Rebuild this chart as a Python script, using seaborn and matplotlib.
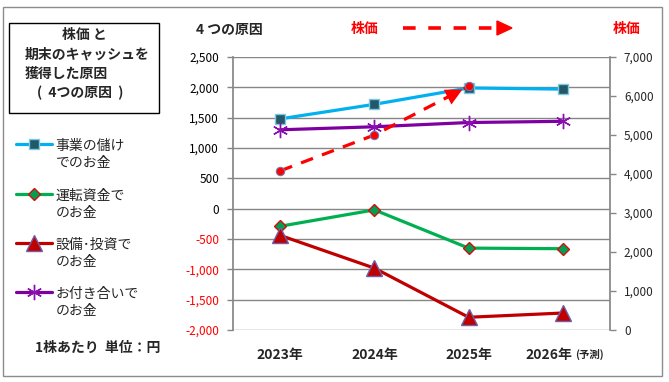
import numpy as np
import pandas as pd
import matplotlib.pyplot as plt
import seaborn as sns
from matplotlib.patches import Rectangle
from matplotlib.lines import Line2D
from matplotlib.ticker import FuncFormatter
from matplotlib.legend_handler import HandlerLine2D

# 1株あたりの値（円）、グラフから読み取り
years = ['2023年', '2024年', '2025年', '2026年']
business = [1480, 1720, 1990, 1970]     # 事業の儲けでのお金
working = [-290, -20, -650, -660]       # 運転資金でのお金
capex = [-440, -980, -1790, -1720]      # 設備・投資でのお金
other = [1300, 1350, 1420, 1440]        # お付き合いでのお金
stock = [4080, 5000, 6250]              # 株価 (2023-2025)

left_ticks = np.arange(-2000, 2501, 500)
right_ticks = np.arange(0, 7001, 1000)

sns.set_theme(style='white')
plt.rcParams['font.family'] = ['Noto Sans CJK JP', 'DejaVu Sans']

W, H = 669, 382
fig = plt.figure(figsize=(W / 100, H / 100), dpi=100)


def fx(px):
    return px / W


def fy(py):
    return 1 - py / H


ax = fig.add_axes([fx(233), fy(330), fx(610) - fx(233), fy(57) - fy(330)])
ax2 = ax.twinx()

x = np.arange(len(years))
df = pd.DataFrame({'x': x, 'business': business, 'working': working,
                   'capex': capex, 'other': other})

sns.lineplot(data=df, x='x', y='business', ax=ax, color='#00B0F0', lw=2.3,
             marker='s', markersize=7.5, markerfacecolor='#215968',
             markeredgecolor='#7FC8E0', markeredgewidth=1, label='事業の儲け\nでのお金')
sns.lineplot(data=df, x='x', y='working', ax=ax, color='#00B050', lw=2.3,
             marker='D', markersize=6, markerfacecolor='#00A050',
             markeredgecolor='#D01010', markeredgewidth=1, label='運転資金で\nのお金')
sns.lineplot(data=df, x='x', y='capex', ax=ax, color='#C00000', lw=2.3,
             marker='^', markersize=11, markerfacecolor='#C00000',
             markeredgecolor='#7060A8', markeredgewidth=1, label='設備･投資で\nのお金')
sns.lineplot(data=df, x='x', y='other', ax=ax, color='#7F00A0', lw=2.3,
             marker=(6, 2, 0), markersize=11, markeredgecolor='#8A10B0',
             markeredgewidth=1, label='お付き合いで\nのお金')

handles = ax.get_lines()[:4]
ax.get_legend().remove()

sx = x[:len(stock)]
ax2.plot(sx, stock, color='#FF0000', lw=2.3, dashes=(4, 3),
         marker='o', markersize=6, markerfacecolor='#FF0000',
         markeredgecolor='#6A7AB0', markeredgewidth=0.8, zorder=5)
# 矢印の先端（最後の区間上）
t0, t1 = 0.7, 0.96
ax2.annotate('', xy=(sx[-2] + t1 * (sx[-1] - sx[-2]), stock[-2] + t1 * (stock[-1] - stock[-2])),
             xytext=(sx[-2] + t0 * (sx[-1] - sx[-2]), stock[-2] + t0 * (stock[-1] - stock[-2])),
             arrowprops=dict(arrowstyle='-|>,head_length=1.0,head_width=0.5',
                             color='#FF0000', lw=0), zorder=6)

ax.set_xlim(-0.5, len(years) - 0.5)
ax.set_ylim(-2000, 2500)
ax2.set_ylim(0, 7000)
ax.set_yticks(left_ticks)
ax2.set_yticks(right_ticks)
fmt = FuncFormatter(lambda v, p: f'{int(v):,}')
ax.yaxis.set_major_formatter(fmt)
ax2.yaxis.set_major_formatter(fmt)
ax.set_xticks([])
ax.set_xlabel('')
ax.set_ylabel('')
ax2.set_ylabel('')

ax.grid(True, axis='y', color='#868686', lw=1)
ax2.grid(False)
for s in ['top', 'bottom', 'right']:
    ax.spines[s].set_visible(False)
for s in ['top', 'bottom', 'left']:
    ax2.spines[s].set_visible(False)
ax.spines['left'].set_color('#868686')
ax2.spines['right'].set_color('#868686')
ax.tick_params(axis='y', left=True, length=4, width=1, color='#868686',
               labelsize=8.5, pad=6)
ax2.tick_params(axis='y', right=True, length=4, width=1, color='#868686',
                labelsize=8.5, pad=6)
for lab, v in zip(ax.get_yticklabels(), left_ticks):
    lab.set_color('#FF0000' if v < 0 else 'black')

# x軸ラベル
for i, yl in enumerate(years[:-1]):
    ax.text(i, -0.09, yl, transform=ax.get_xaxis_transform(), ha='center',
            va='center', fontsize=10, fontweight='bold')
ax.text(x[-1] + 0.105, -0.09, years[-1], transform=ax.get_xaxis_transform(),
        ha='right', va='center', fontsize=10, fontweight='bold')
ax.text(x[-1] + 0.125, -0.09, '(予測)', transform=ax.get_xaxis_transform(),
        ha='left', va='center', fontsize=7.5, fontweight='bold')


class UpHandler(HandlerLine2D):
    def __init__(self, shift, **kw):
        super().__init__(**kw)
        self.shift = shift

    def create_artists(self, legend, orig_handle, xdescent, ydescent, width,
                       height, fontsize, trans):
        arts = super().create_artists(legend, orig_handle, xdescent, ydescent,
                                      width, height, fontsize, trans)
        for a in arts:
            a.set_ydata(np.asarray(a.get_ydata()) + self.shift)
        return arts


leg = fig.legend(handles=handles, labels=[h.get_label() for h in handles],
                 loc='upper left', bbox_to_anchor=(fx(16), fy(139)), frameon=False,
                 fontsize=10, handlelength=2.6, handletextpad=0.25, labelspacing=1.3,
                 borderpad=0, borderaxespad=0,
                 handler_map={Line2D: UpHandler(8)})
for t in leg.get_texts():
    t.set_linespacing(1.3)

# 枠とテキスト
fig.add_artist(Rectangle((fx(3), fy(376)), fx(662) - fx(3), fy(7) - fy(376),
                         transform=fig.transFigure, fill=False,
                         edgecolor='#8C8C8C', lw=1))
fig.add_artist(Rectangle((fx(9), fy(113)), fx(159) - fx(9), fy(23) - fy(113),
                         transform=fig.transFigure, fill=False,
                         edgecolor='black', lw=1))
fig.text(fx(84), fy(35), '株価 と', ha='center', va='center', fontsize=10, fontweight='bold')
fig.text(fx(25), fy(55), '期末のキャッシュを', ha='left', va='center', fontsize=10, fontweight='bold')
fig.text(fx(25), fy(74), '獲得した原因', ha='left', va='center', fontsize=10, fontweight='bold')
fig.text(fx(80), fy(93), '(  4つの原因  )', ha='center', va='center', fontsize=10, fontweight='bold')
fig.text(fx(35), fy(348), '1株あたり  単位：円', ha='left', va='center', fontsize=10, fontweight='bold')

fig.text(fx(196), fy(30), '4 つの原因', ha='left', va='center', fontsize=10, fontweight='bold')
fig.text(fx(365), fy(29), '株価', ha='center', va='center', fontsize=10,
         fontweight='bold', color='#FF0000')
fig.text(fx(627), fy(29), '株価', ha='center', va='center', fontsize=10,
         fontweight='bold', color='#FF0000')
fig.add_artist(Line2D([fx(403), fx(498)], [fy(28), fy(28)], transform=fig.transFigure,
                      color='#FF0000', lw=2.6, dashes=(3.5, 3.5)))
fig.add_artist(plt.Polygon([[fx(497), fy(21)], [fx(512), fy(28)], [fx(497), fy(35)]],
                           closed=True, transform=fig.transFigure, color='#FF0000'))

fig.savefig('out.png', dpi=100)
